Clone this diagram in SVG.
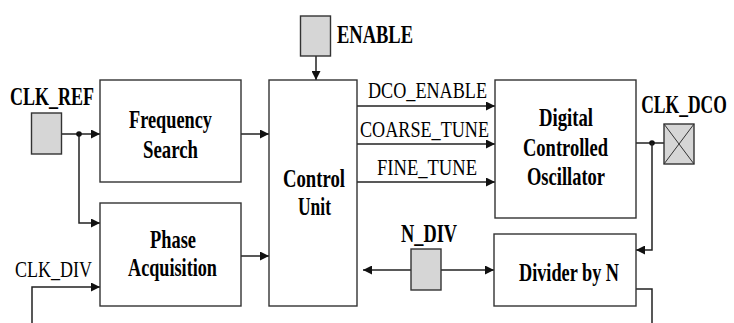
<svg xmlns="http://www.w3.org/2000/svg" width="734" height="323" viewBox="0 0 734 323">
<style>
.blk{fill:#fff;stroke:#333;stroke-width:1.4}
.pin{fill:#d6d6d6;stroke:#333;stroke-width:1.4}
.w{fill:none;stroke:#222;stroke-width:1.5}
.b{font-family:"Liberation Serif","Times New Roman",serif;font-weight:bold;font-size:25px;fill:#000;text-anchor:middle}
.r{font-family:"Liberation Serif","Times New Roman",serif;font-size:23.5px;fill:#000;text-anchor:middle}
</style>
<defs>
<marker id="ah" viewBox="0 0 10 10" refX="10" refY="5" markerWidth="9" markerHeight="9" markerUnits="userSpaceOnUse" orient="auto">
<path d="M0,0 L10,5 L0,10 Z" fill="#111"/>
</marker>
</defs>
<rect width="734" height="323" fill="#fff"/>
<g id="connectors">
<path class="w" d="M61.5,134 H100" marker-end="url(#ah)"/>
<path class="w" d="M79,134 V223 H100" marker-end="url(#ah)"/>
<circle cx="79" cy="134" r="2.8" fill="#111"/>
<path class="w" d="M32,323 V287 H100" marker-end="url(#ah)"/>
<path class="w" d="M241,134 H269" marker-end="url(#ah)"/>
<path class="w" d="M241,256 H269" marker-end="url(#ah)"/>
<path class="w" d="M316,56 V80" marker-end="url(#ah)"/>
<path class="w" d="M357,106 H495" marker-end="url(#ah)"/>
<path class="w" d="M357,144 H495" marker-end="url(#ah)"/>
<path class="w" d="M357,182 H495" marker-end="url(#ah)"/>
<path class="w" d="M636,143 H664"/>
<circle cx="652" cy="143" r="2.8" fill="#111"/>
<path class="w" d="M652,143 V250 H636" marker-end="url(#ah)"/>
<path class="w" d="M636,289 H652 V323"/>
<path class="w" d="M411,270 H363" marker-end="url(#ah)"/>
<path class="w" d="M441,270 H494" marker-end="url(#ah)"/>
<text class="r" x="427.5" y="98" textLength="119" lengthAdjust="spacingAndGlyphs">DCO_ENABLE</text>
<text class="r" x="424.5" y="137" textLength="129" lengthAdjust="spacingAndGlyphs">COARSE_TUNE</text>
<text class="r" x="427" y="175" textLength="100" lengthAdjust="spacingAndGlyphs">FINE_TUNE</text>
</g>
<g id="clk_ref">
<rect class="pin" x="31.5" y="113" width="30" height="41"/>
<text class="b" x="52" y="105" textLength="84" lengthAdjust="spacingAndGlyphs">CLK_REF</text>
</g>
<g id="clk_div">
<text class="r" x="53.5" y="277" textLength="77" lengthAdjust="spacingAndGlyphs">CLK_DIV</text>
</g>
<g id="freq_search">
<rect class="blk" x="100" y="80" width="141" height="102"/>
<text class="b" x="170.5" y="128" textLength="83" lengthAdjust="spacingAndGlyphs">Frequency</text>
<text class="b" x="170.5" y="158" textLength="55" lengthAdjust="spacingAndGlyphs">Search</text>
</g>
<g id="phase_acq">
<rect class="blk" x="100" y="203" width="141" height="103"/>
<text class="b" x="173" y="248" textLength="46" lengthAdjust="spacingAndGlyphs">Phase</text>
<text class="b" x="172.5" y="276" textLength="89" lengthAdjust="spacingAndGlyphs">Acquisition</text>
</g>
<g id="enable">
<rect class="pin" x="300.5" y="16" width="30" height="40"/>
<text class="b" x="375" y="43" textLength="76" lengthAdjust="spacingAndGlyphs">ENABLE</text>
</g>
<g id="control_unit">
<rect class="blk" x="269" y="80" width="88" height="226"/>
<text class="b" x="314" y="187" textLength="62" lengthAdjust="spacingAndGlyphs">Control</text>
<text class="b" x="314.5" y="215" textLength="33" lengthAdjust="spacingAndGlyphs">Unit</text>
</g>
<g id="dco">
<rect class="blk" x="495" y="80" width="141" height="138"/>
<text class="b" x="566" y="126" textLength="54" lengthAdjust="spacingAndGlyphs">Digital</text>
<text class="b" x="565.5" y="156" textLength="85" lengthAdjust="spacingAndGlyphs">Controlled</text>
<text class="b" x="566" y="185" textLength="78" lengthAdjust="spacingAndGlyphs">Oscillator</text>
</g>
<g id="clk_dco">
<rect class="pin" x="664" y="124" width="30" height="40"/>
<path d="M664,124 L694,164 M694,124 L664,164" stroke="#333" stroke-width="1"/>
<text class="b" transform="translate(684,113) scale(0.7,1)" x="0" y="0">CLK_DCO</text>
</g>
<g id="n_div">
<rect class="pin" x="411" y="249" width="30" height="41"/>
<text class="b" x="429" y="242" textLength="56" lengthAdjust="spacingAndGlyphs">N_DIV</text>
</g>
<g id="divider">
<rect class="blk" x="494" y="234" width="142" height="72"/>
<text class="b" x="569" y="281" textLength="100" lengthAdjust="spacingAndGlyphs">Divider by N</text>
</g>
</svg>
